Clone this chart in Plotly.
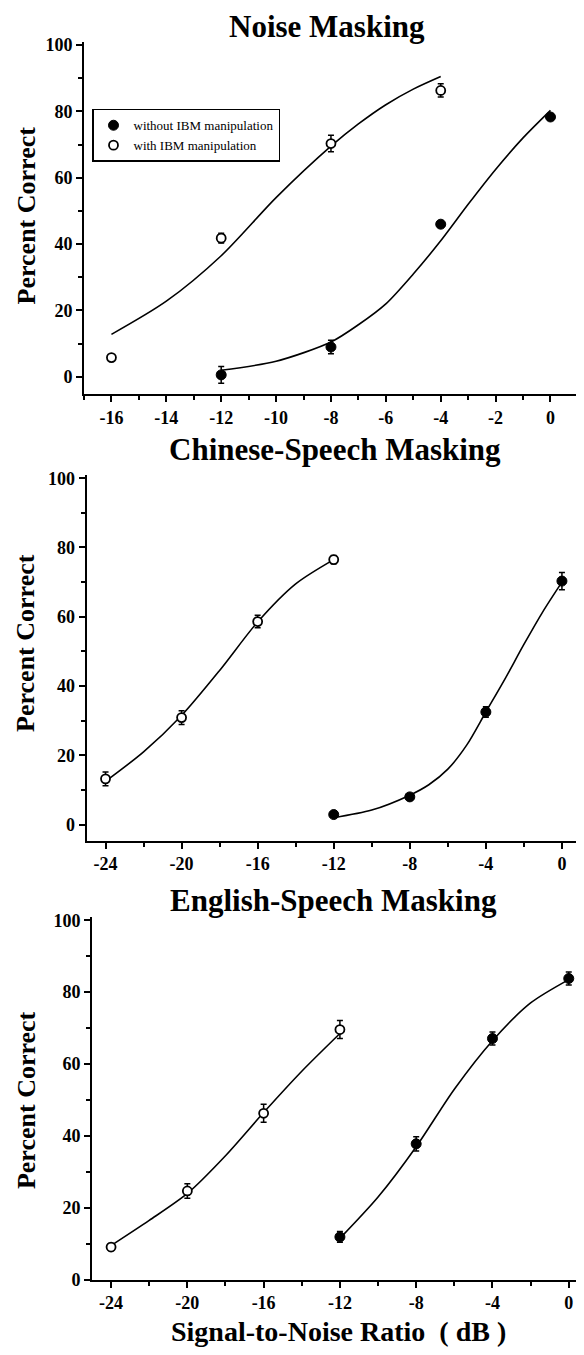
import plotly.graph_objects as go

# ---------------- Data ----------------
# Panel 1: Noise Masking
noise_x_without = [-12, -8, -4, 0]
noise_y_without = [0.6, 9.0, 46.0, 78.3]
noise_e_without = [2.5, 2.0, 1.0, 1.0]
noise_x_with = [-16, -12, -8, -4]
noise_y_with = [5.8, 41.8, 70.3, 86.3]
noise_e_with = [0.8, 1.5, 2.5, 2.0]
noise_fit_with_x = [-16, -14, -12, -10, -8, -7, -6, -5, -4]
noise_fit_with_y = [12.8, 22.8, 36.5, 54.0, 69.5, 76.2, 82.0, 86.7, 90.5]
noise_fit_without_x = [-12, -10, -8, -7, -6, -5, -4, -3, -2, -1, 0]
noise_fit_without_y = [2.0, 4.7, 10.5, 15.7, 22.0, 31.0, 41.0, 52.0, 62.5, 72.0, 80.3]
noise_ticks = [-16, -14, -12, -10, -8, -6, -4, -2, 0]

# Panel 2: Chinese-Speech Masking
chin_x_without = [-12, -8, -4, 0]
chin_y_without = [2.9, 8.0, 32.5, 70.3]
chin_e_without = [0.6, 0.6, 1.5, 2.5]
chin_x_with = [-24, -20, -16, -12]
chin_y_with = [13.2, 30.9, 58.6, 76.5]
chin_e_with = [2.0, 2.0, 1.8, 1.2]
chin_fit_with_x = [-24, -22, -20, -18, -16, -14, -12]
chin_fit_with_y = [12.5, 21.0, 31.5, 44.5, 58.5, 69.5, 76.5]
chin_fit_without_x = [-12, -10, -8, -7, -6, -5, -4, -3, -2, -1, 0]
chin_fit_without_y = [2.0, 4.2, 8.5, 11.5, 16.0, 23.0, 32.5, 42.0, 52.0, 61.5, 70.0]
speech_ticks = [-24, -20, -16, -12, -8, -4, 0]

# Panel 3: English-Speech Masking
eng_x_without = [-12, -8, -4, 0]
eng_y_without = [11.9, 37.8, 67.1, 83.8]
eng_e_without = [1.5, 2.0, 1.8, 1.8]
eng_x_with = [-24, -20, -16, -12]
eng_y_with = [9.1, 24.7, 46.3, 69.6]
eng_e_with = [1.0, 2.0, 2.5, 2.5]
eng_fit_with_x = [-24, -22, -20, -18, -16, -14, -12]
eng_fit_with_y = [9.5, 16.5, 24.0, 34.5, 46.5, 58.0, 68.5]
eng_fit_without_x = [-12, -10, -8, -6, -4, -2, 0]
eng_fit_without_y = [11.5, 23.0, 37.0, 53.0, 66.5, 77.0, 83.5]

# page body has a default 8px margin -> figure is 16px smaller than the window
OFF = 8
W, H = 584 - 2 * OFF, 1355 - 2 * OFF
SERIF = "Liberation Serif"

fig = go.Figure()


def add_panel(idx, fx_w, fy_w, fx_wo, fy_wo, x_wo, y_wo, e_wo, x_w, y_w, e_w, legend):
    xa = "x" if idx == 1 else f"x{idx}"
    ya = "y" if idx == 1 else f"y{idx}"
    line = dict(color="black", width=1.6, shape="spline", smoothing=0.8)
    fig.add_trace(go.Scatter(x=fx_w, y=fy_w, mode="lines", line=line,
                             showlegend=False, hoverinfo="skip", xaxis=xa, yaxis=ya))
    fig.add_trace(go.Scatter(x=fx_wo, y=fy_wo, mode="lines", line=line,
                             showlegend=False, hoverinfo="skip", xaxis=xa, yaxis=ya))
    fig.add_trace(go.Scatter(
        x=x_wo, y=y_wo, mode="markers", name="without IBM manipulation",
        marker=dict(symbol="circle", size=10, color="black", line=dict(color="black", width=1)),
        error_y=dict(type="data", array=e_wo, color="black", thickness=1.5, width=3),
        showlegend=legend, xaxis=xa, yaxis=ya))
    fig.add_trace(go.Scatter(
        x=x_w, y=y_w, mode="markers", name="with IBM manipulation",
        marker=dict(symbol="circle", size=9, color="white", line=dict(color="black", width=1.8)),
        error_y=dict(type="data", array=e_w, color="black", thickness=1.5, width=3),
        showlegend=legend, xaxis=xa, yaxis=ya))


add_panel(1, noise_fit_with_x, noise_fit_with_y, noise_fit_without_x, noise_fit_without_y,
          noise_x_without, noise_y_without, noise_e_without,
          noise_x_with, noise_y_with, noise_e_with, True)
add_panel(2, chin_fit_with_x, chin_fit_with_y, chin_fit_without_x, chin_fit_without_y,
          chin_x_without, chin_y_without, chin_e_without,
          chin_x_with, chin_y_with, chin_e_with, False)
add_panel(3, eng_fit_with_x, eng_fit_with_y, eng_fit_without_x, eng_fit_without_y,
          eng_x_without, eng_y_without, eng_e_without,
          eng_x_with, eng_y_with, eng_e_with, False)

tickfont = dict(family=SERIF, size=18, color="black", weight="bold")


def xaxis(dom, rng, ticks, minor_dt, anchor):
    return dict(domain=dom, range=rng, anchor=anchor, showline=True, linecolor="black",
                linewidth=2, ticks="outside", ticklen=6, tickwidth=1.8, tickcolor="black",
                tickmode="array", tickvals=ticks, ticktext=[str(t) for t in ticks],
                minor=dict(tickmode="linear", tick0=0, dtick=minor_dt, ticks="outside",
                           ticklen=4, tickwidth=1.8, tickcolor="black", showgrid=False),
                showgrid=False, zeroline=False, tickfont=tickfont, fixedrange=True)


def yaxis(dom, rng, anchor):
    return dict(domain=dom, range=rng, anchor=anchor, showline=True, linecolor="black",
                linewidth=2, ticks="outside", ticklen=6, tickwidth=1.8, tickcolor="black",
                tick0=0, dtick=20,
                minor=dict(tick0=0, dtick=10, ticks="outside", ticklen=4, tickwidth=1.8,
                           tickcolor="black", showgrid=False),
                showgrid=False, zeroline=False, tickfont=tickfont, fixedrange=True)


def px_x(p):  # screen pixel -> paper fraction
    return min(1.0, (p - OFF) / W)


def px_y(p):
    return 1 - (p - OFF) / H


fig.update_layout(
    width=W, height=H,
    margin=dict(l=0, r=0, t=0, b=0),
    paper_bgcolor="white", plot_bgcolor="white",
    font=dict(family=SERIF, color="black"),
    xaxis=xaxis([px_x(84), px_x(576)], [-17, 0.93], noise_ticks, 1, "y"),
    yaxis=yaxis([px_y(392), px_y(35)], [-5.2, 101], "x"),
    xaxis2=xaxis([px_x(86.5), px_x(576)], [-25, 0.74], speech_ticks, 2, "y2"),
    yaxis2=yaxis([px_y(844.5), px_y(474)], [-4.7, 100.9], "x2"),
    xaxis3=xaxis([px_x(92), px_x(576)], [-25, 0.38], speech_ticks, 2, "y3"),
    yaxis3=yaxis([px_y(1289), px_y(922)], [0, 100.8], "x3"),
    legend=dict(x=px_x(92), y=px_y(103), xanchor="left", yanchor="top",
                bordercolor="black", borderwidth=1.5, bgcolor="white",
                font=dict(family=SERIF, size=13, color="black"),
                itemwidth=30, tracegroupgap=0),
    showlegend=True,
)

titles = [
    ("Noise Masking", 326.8, 20),
    ("Chinese-Speech Masking", 335, 448),
    ("English-Speech Masking", 333, 905),
]
for txt, cx, cy in titles:
    fig.add_annotation(text=txt, x=px_x(cx), y=px_y(cy), xref="paper", yref="paper",
                       showarrow=False, xanchor="center", yanchor="middle",
                       font=dict(family=SERIF, size=31, color="black", weight="bold"))

for cy in [211, 644, 1107]:
    fig.add_annotation(text="Percent Correct", x=px_x(26), y=px_y(cy), xref="paper",
                       yref="paper", showarrow=False, textangle=-90,
                       xanchor="center", yanchor="middle",
                       font=dict(family=SERIF, size=26, color="black", weight="bold"))

fig.add_annotation(text="Signal-to-Noise Ratio\u00a0 (\u00a0dB\u00a0)", x=px_x(338), y=px_y(1341),
                   xref="paper", yref="paper", showarrow=False,
                   xanchor="center", yanchor="middle",
                   font=dict(family=SERIF, size=28, color="black", weight="bold"))

fig.write_html("out.html")
